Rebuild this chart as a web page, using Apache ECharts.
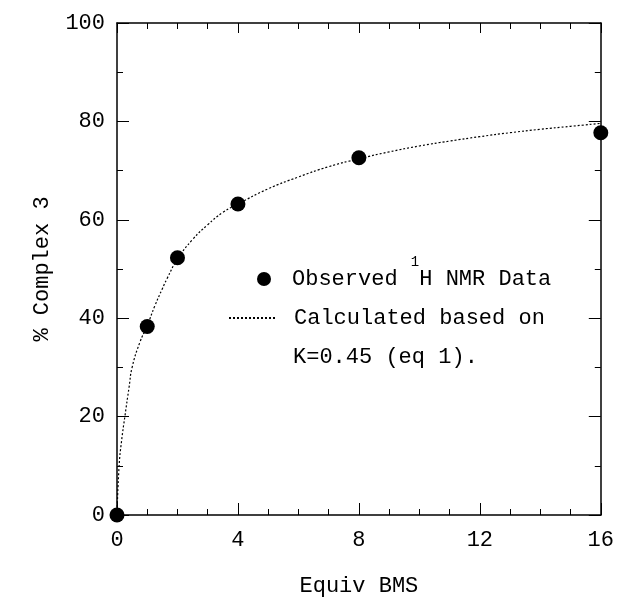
<!DOCTYPE html>
<html>
<head>
<meta charset="utf-8">
<script src="https://cdn.jsdelivr.net/npm/echarts@6/dist/echarts.min.js"></script>
<style>html,body{margin:0;padding:0;background:#fff}#c{width:617px;height:602px}</style>
</head>
<body>
<div id="c"></div>
<script>
// Observed data
const obsX = [0, 1, 2, 4, 8, 16];
const obsY = [0, 38.3, 52.3, 63.2, 72.6, 77.7];
// Calculated curve
const curveX = [0, 0.07, 0.15, 0.26, 0.4, 0.5, 0.75, 1, 1.25, 1.5, 1.65, 2, 2.5, 3, 3.5, 4, 5, 6, 7, 8, 9, 10, 11, 12, 13, 14, 15, 16];
const curveY = [0, 10, 15, 20, 26, 30, 35, 38.5, 42.5, 46, 48, 52, 56, 59, 61.5, 63.2, 66.3, 68.7, 70.8, 72.4, 73.8, 75.0, 76.0, 76.9, 77.7, 78.4, 79.0, 79.6];
const xTicks = [0, 4, 8, 12, 16];
const yTicks = [0, 20, 40, 60, 80, 100];

const FONT = "'Liberation Mono', 'DejaVu Sans Mono', monospace";
const chart = echarts.init(document.getElementById('c'));
const axisBase = {
  axisLine: { show: true, onZero: false, lineStyle: { color: '#000', width: 1.5 } },
  axisTick: { show: true, inside: true, length: 12, lineStyle: { color: '#000', width: 1 } },
  minorTick: { show: true, length: 6, lineStyle: { color: '#000', width: 1 } },
  splitLine: { show: false },
  axisLabel: { color: '#000', fontFamily: FONT, fontSize: 22 }
};
chart.setOption({
  animation: false,
  backgroundColor: '#fff',
  grid: { left: 117, right: 15, top: 23, bottom: 84 },
  xAxis: [
    Object.assign({}, axisBase, {
      type: 'value', min: 0, max: 16, interval: 4, position: 'bottom',
      minorTick: Object.assign({}, axisBase.minorTick, { splitNumber: 4 }),
      axisLabel: Object.assign({}, axisBase.axisLabel, { margin: 14, formatter: v => xTicks.includes(v) ? String(v) : '' }),
      name: 'Equiv BMS', nameLocation: 'middle', nameGap: 60,
      nameTextStyle: { color: '#000', fontFamily: FONT, fontSize: 22 }
    }),
    Object.assign({}, axisBase, {
      type: 'value', min: 0, max: 16, interval: 4, position: 'top',
      axisTick: Object.assign({}, axisBase.axisTick, { length: 10 }),
      minorTick: Object.assign({}, axisBase.minorTick, { splitNumber: 4 }),
      axisLabel: { show: false }
    })
  ],
  yAxis: [
    Object.assign({}, axisBase, {
      type: 'value', min: 0, max: 100, interval: 20, position: 'left',
      minorTick: Object.assign({}, axisBase.minorTick, { splitNumber: 2 }),
      axisLabel: Object.assign({}, axisBase.axisLabel, { margin: 12, formatter: v => yTicks.includes(v) ? String(v) : '' }),
      name: '% Complex 3', nameLocation: 'middle', nameGap: 64, nameRotate: 90,
      nameTextStyle: { color: '#000', fontFamily: FONT, fontSize: 22 }
    }),
    Object.assign({}, axisBase, {
      type: 'value', min: 0, max: 100, interval: 20, position: 'right',
      minorTick: Object.assign({}, axisBase.minorTick, { splitNumber: 2 }),
      axisLabel: { show: false }
    })
  ],
  legend: [
    {
      data: ['Observed'], left: 257, top: 255, padding: 0, itemWidth: 46, itemHeight: 14,
      itemStyle: { opacity: 1 },
      formatter: () => '{n|Observed }{s|1}{n|H NMR Data}',
      textStyle: { color: '#000', fontFamily: FONT, fontSize: 22,
        rich: { n: { fontFamily: FONT, fontSize: 22, color: '#000' },
                 s: { fontFamily: FONT, fontSize: 14, color: '#000', padding: [0, 0, 34, 0] } } }
    },
    {
      data: ['Calculated'], left: 228, top: 307, padding: 0, itemWidth: 47, itemHeight: 14,
      itemStyle: { color: 'rgba(0,0,0,0)', borderColor: 'rgba(0,0,0,0)', borderWidth: 0 },
      formatter: () => 'Calculated based on',
      textStyle: { color: '#000', fontFamily: FONT, fontSize: 22, padding: [0, 0, 0, 13] }
    }
  ],
  graphic: [
    { type: 'text', left: 293, top: 346, style: { text: 'K=0.45 (eq 1).', fill: '#000', font: "22px 'Liberation Mono', 'DejaVu Sans Mono', monospace" } }
  ],
  series: [
    {
      name: 'Calculated', type: 'line', xAxisIndex: 0, yAxisIndex: 0,
      data: curveX.map((x, i) => [x, curveY[i]]),
      showSymbol: false, symbol: 'none', smooth: true,
      lineStyle: { color: '#000', width: 1.2, type: [2, 2] },
      itemStyle: { color: '#000' }, z: 2
    },
    {
      name: 'Observed', type: 'scatter', xAxisIndex: 0, yAxisIndex: 0,
      data: obsX.map((x, i) => [x, obsY[i]]),
      symbol: 'circle', symbolSize: 15, itemStyle: { color: '#000', opacity: 1 }, z: 3, clip: false
    }
  ]
});
</script>
</body>
</html>
